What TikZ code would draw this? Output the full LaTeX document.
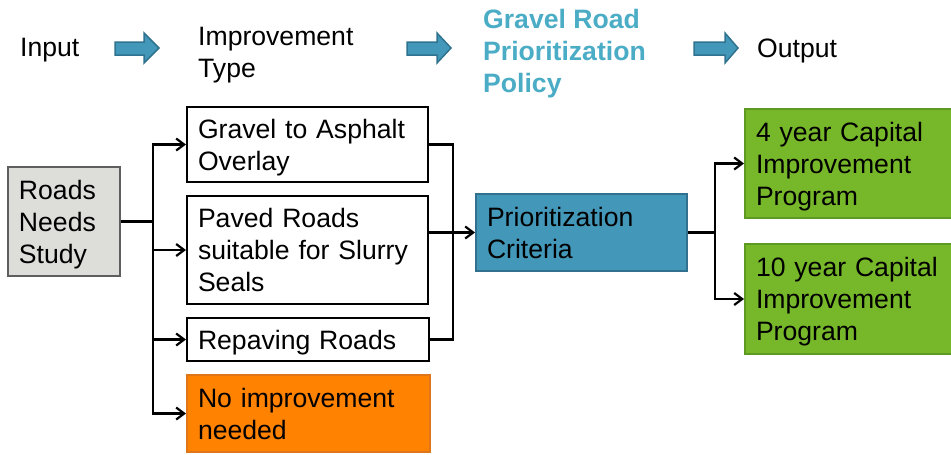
\documentclass[tikz,border=0pt]{standalone}
\usepackage{fontspec}
\setmainfont{Liberation Sans}
\usetikzlibrary{arrows.meta}
\definecolor{hdblue}{HTML}{4397B8}
\definecolor{hdblueb}{HTML}{2F7390}
\definecolor{titleblue}{HTML}{4BACC6}
\definecolor{grayfill}{HTML}{DDDDDA}
\definecolor{grayline}{HTML}{5E5E5E}
\definecolor{orfill}{HTML}{FF8200}
\definecolor{orline}{HTML}{E0761A}
\definecolor{grfill}{HTML}{77B82A}
\definecolor{grline}{HTML}{5E9A22}
\definecolor{prfill}{HTML}{4397B8}
\definecolor{prline}{HTML}{31718F}
\newcommand\hdarrow[2]{\draw[hdarr, shift={(#1,0)}] (0,42) -- (#2,42) -- (#2,33) -- (44,48) -- (#2,63) -- (#2,55) -- (0,55) -- cycle;}
\begin{document}
\begin{tikzpicture}[x=1pt,y=-1pt,
  every node/.style={font=\fontsize{26.6}{32}\selectfont},
  box/.style={draw, line width=2pt, inner xsep=11pt, inner ysep=0pt, align=left,
    execute at begin node={\rule{0pt}{25pt}}, execute at end node={\rule[-6pt]{0pt}{6pt}}},
  hdtext/.style={inner sep=0pt, align=left, anchor=north west},
  conn/.style={line width=2.2pt},
  arr/.style={line width=2.2pt, -{Straight Barb[length=8pt,width=12pt]}},
  hdarr/.style={fill=hdblue, draw=hdblueb, line width=1.5pt}]
\useasboundingbox (0,0) rectangle (951,455);
\clip (0,0) rectangle (951,455);
\fill[white] (0,0) rectangle (951,455);
% header
\node[hdtext] (input) at (20,38.4) {Input};
\node[hdtext] (imptype) at (198,27.4) {Improvement\\Type};
\node[hdtext, text=titleblue, font=\fontsize{26.6}{32}\bfseries] (policy) at (483,9.5) {Gravel Road\\Prioritization\\Policy};
\node[hdtext] (output) at (757,38.4) {Output};
\hdarrow{115}{29}
\hdarrow{407}{30}
\hdarrow{694}{31}
% boxes
\node[box, fill=grayfill, draw=grayline, minimum width=112pt, minimum height=109pt, text width=90pt] (roads) at (64,221.5) {Roads\\Needs\\Study};
\node[box, fill=white, draw=black, minimum width=241pt, minimum height=75pt, text width=219pt] (gravel) at (307.5,144.5) {Gravel to Asphalt\\Overlay};
\node[box, fill=white, draw=black, minimum width=241pt, minimum height=108pt, text width=219pt] (paved) at (307.5,250) {Paved Roads\\suitable for Slurry\\Seals};
\node[box, fill=white, draw=black, minimum width=242pt, minimum height=43pt, text width=220pt] (repave) at (308,339.5) {Repaving Roads};
\node[box, fill=orfill, draw=orline, minimum width=243pt, minimum height=77pt, text width=221pt] (none) at (308.5,413.5) {No improvement\\needed};
\node[box, fill=prfill, draw=prline, minimum width=211pt, minimum height=77pt, text width=189pt] (prio) at (581.5,232.5) {Prioritization\\Criteria};
\node[box, fill=grfill, draw=grline, minimum width=215pt, minimum height=109pt, text width=193pt] (four) at (852.5,163.5) {4 year Capital\\Improvement\\Program};
\node[box, fill=grfill, draw=grline, minimum width=215pt, minimum height=110pt, text width=193pt] (ten) at (852.5,299) {10 year Capital\\Improvement\\Program};
% connectors
\coordinate (bl) at (153,0);
\coordinate (br) at (453,0);
\coordinate (bo) at (715,0);
\draw[conn] (roads.east) -- (roads.east -| bl);
\draw[arr] (roads.east -| bl) |- (gravel.west);
\draw[arr] (roads.east -| bl) |- (paved.west);
\draw[arr] (roads.east -| bl) |- (repave.west);
\draw[arr] (roads.east -| bl) |- (none.west);
\draw[conn] (gravel.east) -- (gravel.east -| br) -- (repave.east -| br) -- (repave.east);
\draw[arr] (paved.east |- prio.west) -- (prio.west);
\draw[conn] (prio.east) -- (prio.east -| bo);
\draw[arr] (prio.east -| bo) |- (four.west);
\draw[arr] (prio.east -| bo) |- (ten.west);
\end{tikzpicture}
\end{document}
